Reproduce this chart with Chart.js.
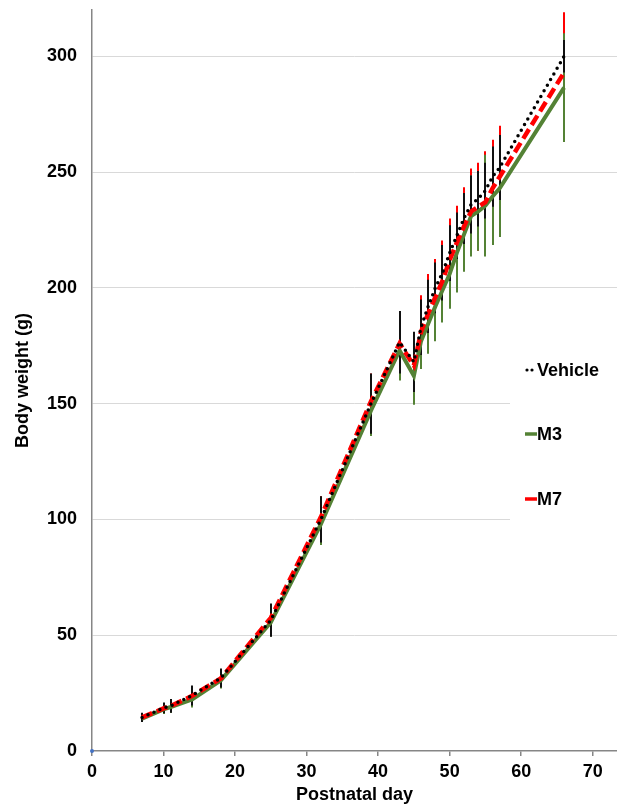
<!DOCTYPE html>
<html>
<head>
<meta charset="utf-8">
<script src="https://cdn.jsdelivr.net/npm/chart.js@4.4.1/dist/chart.umd.min.js"></script>
<style>
  html, body { margin: 0; padding: 0; background: #fff; }
  canvas { display: block; }
</style>
</head>
<body>
<canvas id="c" width="617" height="806"></canvas>
<script>
// Postnatal days at which body weight was measured
const days = [7, 10, 11, 14, 18, 25, 32, 39, 43, 45, 46, 47, 48, 49, 50, 51, 52, 53, 54, 55, 56, 57, 66];

// Mean body weight (g) and standard deviation per group
const vehicleMean = [14.5, 18.6, 19.5, 24, 31.5, 56.5, 100, 150, 176.5, 168, 183, 192, 200, 206.5, 215, 222.5, 230, 236, 238.5, 242, 248, 252, 300];
const vehicleSD   = [2, 2.3, 3, 4.3, 4.1, 7.2, 10, 13, 13.5, 13, 12, 11.5, 11, 12, 12, 10, 11, 12.5, 12, 12, 13, 14, 7];
const m3Mean      = [14, 18, 19, 22.3, 30.5, 55.5, 98, 147, 173, 162, 177, 184.5, 192, 199, 206, 215, 223, 231, 233, 235.5, 239.5, 243, 286.5];
const m3SD        = [1.5, 2, 2.5, 3.5, 3.5, 6, 9, 11, 13, 12.5, 12, 13, 15, 14, 15, 17, 16, 17.5, 17, 22, 21, 21, 23.5];
const m7Mean      = [14.5, 18.4, 19.4, 23.8, 31.3, 57.5, 101, 151, 176, 166.5, 181, 189, 196, 203, 212, 219.5, 226.5, 233, 235, 237, 243, 248, 293];
const m7SD        = [1.5, 2, 2.5, 3.5, 3.5, 6, 9, 12, 13, 12, 15.8, 17, 16.5, 17.5, 18, 16, 17, 18.5, 19, 22, 21, 22, 26];

const seriesNames = ['Vehicle', 'M3', 'M7'];
const originPoint = [{ x: 0, y: 0 }];

// Axis ranges and tick steps
const xRange = [0, 73.4];
const yRange = [0, 320];
const xStep = 10;
const yStep = 50;

const FONT = "'Liberation Sans', Arial, Helvetica, sans-serif";
const COLORS = { vehicle: '#000000', m3: '#548235', m7: '#FF0000', axis: '#868686', grid: '#d9d9d9' };

const toPoints = (means) => days.map((d, i) => ({ x: d, y: means[i] }));

// Scales keep their full box: no extra room reserved for edge labels
function noEdgePadding(scale) {
  scale.paddingTop = 0;
  scale.paddingBottom = 0;
  scale.paddingLeft = 0;
  scale.paddingRight = 0;
}

// Vertical SD bars, drawn underneath the lines (red first, then green, black on top)
const errorBars = {
  id: 'errorBars',
  beforeDatasetsDraw(chart) {
    const { ctx, scales: { x, y } } = chart;
    const groups = [
      { mean: m7Mean, sd: m7SD, color: COLORS.m7 },
      { mean: m3Mean, sd: m3SD, color: COLORS.m3 },
      { mean: vehicleMean, sd: vehicleSD, color: '#111111' }
    ];
    ctx.save();
    ctx.lineWidth = 2;
    ctx.lineCap = 'butt';
    groups.forEach(g => {
      ctx.strokeStyle = g.color;
      days.forEach((d, i) => {
        const px = Math.round(x.getPixelForValue(d));
        ctx.beginPath();
        ctx.moveTo(px, y.getPixelForValue(g.mean[i] - g.sd[i]));
        ctx.lineTo(px, y.getPixelForValue(g.mean[i] + g.sd[i]));
        ctx.stroke();
      });
    });
    ctx.restore();
  }
};

// Legend box on the right side of the plot
const sideLegend = {
  id: 'sideLegend',
  afterDatasetsDraw(chart) {
    const { ctx } = chart;
    const items = [
      { text: seriesNames[0], color: COLORS.vehicle, style: 'dot', cy: 370 },
      { text: seriesNames[1], color: COLORS.m3, style: 'solid', cy: 434 },
      { text: seriesNames[2], color: COLORS.m7, style: 'solid', cy: 499 }
    ];
    ctx.save();
    ctx.fillStyle = '#ffffff';
    ctx.fillRect(510, 336, 107, 196);
    items.forEach(it => {
      ctx.beginPath();
      ctx.strokeStyle = it.color;
      if (it.style === 'dot') {
        ctx.lineWidth = 3.2;
        ctx.lineCap = 'round';
        ctx.setLineDash([0, 5]);
        ctx.moveTo(527, it.cy);
        ctx.lineTo(536, it.cy);
      } else {
        ctx.lineWidth = 3.5;
        ctx.lineCap = 'butt';
        ctx.setLineDash([]);
        ctx.moveTo(525, it.cy);
        ctx.lineTo(537, it.cy);
      }
      ctx.stroke();
      ctx.setLineDash([]);
      ctx.fillStyle = '#000000';
      ctx.font = 'bold 18px ' + FONT;
      ctx.textAlign = 'left';
      ctx.textBaseline = 'middle';
      ctx.fillText(it.text, 537, it.cy + 1);
    });
    ctx.restore();
  }
};

new Chart(document.getElementById('c'), {
  type: 'line',
  data: {
    datasets: [
      {
        label: seriesNames[0],
        data: toPoints(vehicleMean),
        borderColor: COLORS.vehicle,
        borderWidth: 3.5,
        borderDash: [0, 6.5],
        borderCapStyle: 'round',
        pointRadius: 0,
        tension: 0,
        order: 0
      },
      {
        label: seriesNames[1],
        data: toPoints(m3Mean),
        borderColor: COLORS.m3,
        borderWidth: 4,
        pointRadius: 0,
        tension: 0,
        order: 2
      },
      {
        label: seriesNames[2],
        data: toPoints(m7Mean),
        borderColor: COLORS.m7,
        borderWidth: 4.5,
        borderDash: [11, 5],
        borderCapStyle: 'butt',
        pointRadius: 0,
        tension: 0,
        order: 1
      },
      {
        label: 'origin',
        data: originPoint,
        showLine: false,
        pointRadius: 2,
        pointBackgroundColor: '#4472C4',
        pointBorderWidth: 0,
        clip: false,
        order: 3
      }
    ]
  },
  options: {
    responsive: false,
    animation: false,
    devicePixelRatio: 1,
    layout: { autoPadding: false, padding: { top: 10, right: 0, bottom: 0, left: 0 } },
    plugins: {
      legend: { display: false },
      tooltip: { enabled: false }
    },
    scales: {
      x: {
        type: 'linear',
        min: xRange[0],
        max: xRange[1],
        afterFit(scale) { scale.height = 55; noEdgePadding(scale); },
        border: { display: true, color: COLORS.axis, width: 1.5 },
        grid: { drawOnChartArea: false, drawTicks: true, tickLength: 5, color: COLORS.axis, lineWidth: 1.5 },
        ticks: {
          stepSize: xStep,
          includeBounds: false,
          padding: 5,
          maxRotation: 0,
          color: '#000',
          font: { family: FONT, size: 18, weight: 'bold' }
        },
        title: {
          display: true,
          text: 'Postnatal day',
          color: '#000',
          padding: { top: 0, bottom: 0 },
          font: { family: FONT, size: 18, weight: 'bold', lineHeight: 1.2 }
        }
      },
      y: {
        type: 'linear',
        min: yRange[0],
        max: yRange[1],
        afterFit(scale) { scale.width = 92; noEdgePadding(scale); },
        border: { display: true, color: COLORS.axis, width: 1.5 },
        grid: {
          drawTicks: false,
          lineWidth: 1,
          color: (c) => (c.tick && c.tick.value === 0) ? 'rgba(0,0,0,0)' : COLORS.grid
        },
        ticks: {
          stepSize: yStep,
          includeBounds: false,
          padding: 15,
          color: '#000',
          font: { family: FONT, size: 18, weight: 'bold' }
        },
        title: {
          display: true,
          text: 'Body weight (g)',
          color: '#000',
          padding: { top: 12, bottom: 0 },
          font: { family: FONT, size: 18, weight: 'bold', lineHeight: 1.2 }
        }
      }
    }
  },
  plugins: [errorBars, sideLegend]
});
</script>
</body>
</html>
